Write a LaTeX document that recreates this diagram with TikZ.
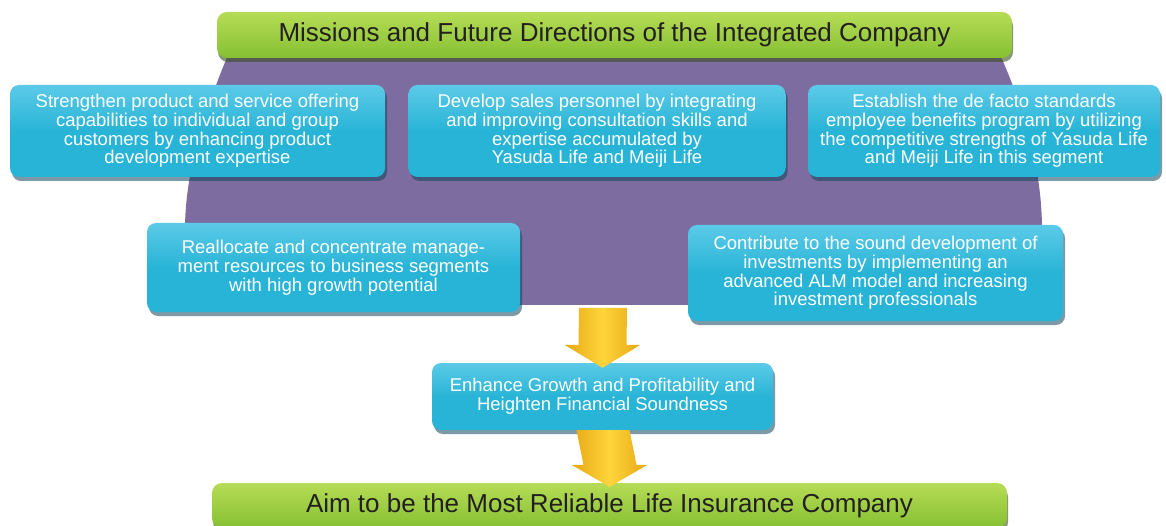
\documentclass[tikz,border=0pt]{standalone}
\usepackage{fontspec}
\setmainfont{Liberation Sans}
\usetikzlibrary{shadows,calc}

\definecolor{boxcyan}{RGB}{40,180,214}
\definecolor{boxcyanlt}{RGB}{92,202,232}
\definecolor{boxshadow}{RGB}{18,70,92}
\definecolor{bannerlt}{RGB}{182,220,86}
\definecolor{bannerdk}{RGB}{134,192,50}
\definecolor{bannershadow}{RGB}{60,80,30}
\definecolor{bowlpurple}{RGB}{124,108,160}
\definecolor{goldlt}{RGB}{255,212,58}
\definecolor{golddk}{RGB}{230,168,22}
\definecolor{inkdark}{RGB}{35,31,32}

\tikzset{
  taskbox/.style={rounded corners=9pt, top color=boxcyanlt, bottom color=boxcyan,
    middle color=boxcyan,
    drop shadow={shadow xshift=2pt, shadow yshift=-4pt, fill=boxshadow, opacity=.55},
    text=white, font=\fontsize{18.5}{18.8}\selectfont, align=center, inner sep=0pt},
  banner/.style={rounded corners=10pt, top color=bannerlt, bottom color=bannerdk,
    drop shadow={shadow xshift=1pt, shadow yshift=-4pt, fill=bannershadow, opacity=.6},
    text=inkdark, font=\fontsize{26}{28}\selectfont, inner sep=0pt,
    minimum width=795pt},
  goldarrow/.style={left color=golddk, right color=golddk, middle color=goldlt},
}

\begin{document}
\begin{tikzpicture}[x=1pt, y=-1pt]
\useasboundingbox (0,0) rectangle (1166,526);

% purple bowl behind the upper block
\fill[bowlpurple] (230,50) .. controls (205,110) and (185,170) .. (185,230)
  .. controls (185,290) and (200,305) .. (260,305) -- (970,305)
  .. controls (1030,305) and (1042,290) .. (1042,230)
  .. controls (1042,170) and (1025,110) .. (998,50) -- cycle;
\coordinate (bowlbottom) at (603,308);

% title banner
\node[banner, minimum height=46pt] (title) at (614.5,35)
  {Missions and Future Directions of the Integrated Company};

% first row of goals
\node[taskbox, minimum width=375pt, minimum height=92pt] (b1) at (197.5,131)
  {Strengthen product and service offering\\capabilities to individual and group\\customers by enhancing product\\development expertise};
\node[taskbox, minimum width=377pt, minimum height=92pt] (b2) at (597,131)
  {Develop sales personnel by integrating\\and improving consultation skills and\\expertise accumulated by\\Yasuda Life and Meiji Life};
\node[taskbox, minimum width=352pt, minimum height=92pt] (b3) at (984,131)
  {Establish the de facto standards\\employee benefits program by utilizing\\the competitive strengths of Yasuda Life\\and Meiji Life in this segment};

% second row of goals
\node[taskbox, minimum width=373pt, minimum height=89pt] (b4) at (333.5,267.5)
  {Reallocate and concentrate manage-\\ment resources to business segments\\with high growth potential};
\node[taskbox, minimum width=375pt, minimum height=96pt] (b5) at (875.5,273)
  {Contribute to the sound development of\\investments by implementing an\\advanced ALM model and increasing\\investment professionals};

% closing banner and intermediate outcome
\node[banner, minimum height=45pt] (aim) at (609.5,505.5)
  {Aim to be the Most Reliable Life Insurance Company};
\node[taskbox, minimum width=341pt, minimum height=67pt] (b6) at (602.5,396.5)
  {Enhance Growth and Profitability and\\Heighten Financial Soundness};

% block arrows
\shade[goldarrow]
  ($(bowlbottom)+(-24,0)$) -- ($(bowlbottom)+(24,0)$)
  -- ($(b6.north)+(24,-18)$) -- ($(b6.north)+(38,-18)$)
  -- ($(b6.north)+(0,5)$)
  -- ($(b6.north)+(-38,-18)$) -- ($(b6.north)+(-24,-18)$) -- cycle;
\shade[goldarrow]
  ($(b6.south)+(-26,0)$) -- ($(b6.south)+(27,0)$)
  -- ($(aim.north)+(27,-18)$) -- ($(aim.north)+(38,-18)$)
  -- ($(aim.north)+(0,4)$)
  -- ($(aim.north)+(-38,-18)$) -- ($(aim.north)+(-26,-18)$) -- cycle;
\end{tikzpicture}
\end{document}
